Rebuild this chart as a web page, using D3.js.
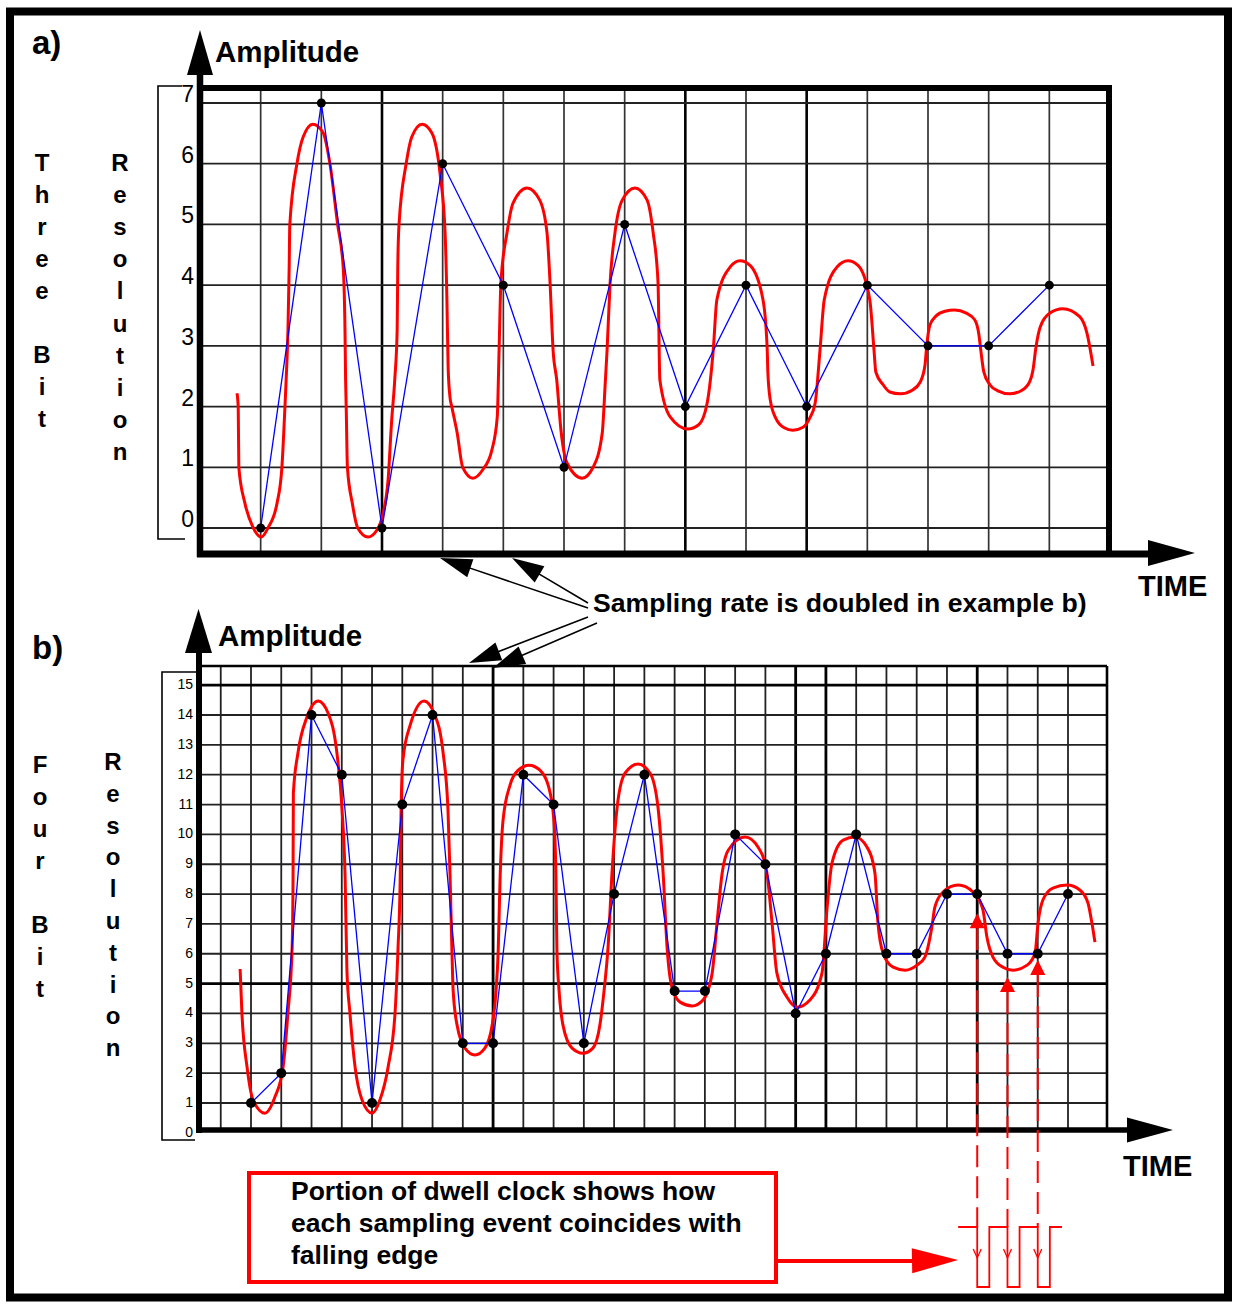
<!DOCTYPE html>
<html><head><meta charset="utf-8">
<script src="https://cdn.jsdelivr.net/npm/d3@7"></script>
<style>html,body{margin:0;padding:0;background:#fff;} svg{display:block;} text{font-family:"Liberation Sans",Arial,Helvetica,sans-serif;}</style>
</head><body>
<svg id="chart" width="1234" height="1306"></svg>
<script>
// ---------------- DATA ----------------
const ticksA = [0,1,2,3,4,5,6,7];
const sampleTimesA = [1,2,3,4,5,6,7,8,9,10,11,12,13,14];
const samplesA = [0,7,0,6,4,1,5,2,4,2,4,3,3,4];
// analog signal trace for panel a, [time (sample units), amplitude]
const analogA = [
 [0.61,2.22],[0.63,1.99],[0.64,1.00],[0.74,0.41],[0.87,0.02],[1.01,-0.15],[1.12,0.00],[1.27,0.41],[1.35,1.00],[1.40,1.99],[1.42,2.44],
 [1.45,3.26],[1.47,4.30],[1.48,4.99],[1.60,6.01],[1.70,6.44],[1.86,6.65],[2.03,6.51],[2.14,6.01],[2.27,4.99],[2.36,4.30],[2.39,3.26],[2.40,2.44],
 [2.41,1.99],[2.43,1.00],[2.51,0.41],[2.60,0.00],[2.77,-0.15],[2.92,-0.03],[3.02,0.25],[3.10,0.79],[3.16,1.78],[3.21,2.44],
 [3.25,3.26],[3.26,4.30],[3.28,4.99],[3.40,6.01],[3.49,6.44],[3.66,6.65],[3.82,6.51],[3.96,5.81],[4.04,4.86],[4.07,3.76],[4.09,2.65],[4.12,2.16],
 [4.15,2.00],[4.24,1.56],[4.33,1.00],[4.50,0.82],[4.66,0.96],[4.81,1.28],[4.90,1.83],[4.93,2.93],
 [4.96,4.04],[5.06,4.86],[5.16,5.35],[5.39,5.60],[5.60,5.40],[5.72,4.86],[5.77,4.04],[5.82,2.93],[5.88,2.44],
 [5.95,1.61],[6.05,1.07],[6.30,0.82],[6.48,1.00],[6.63,1.56],[6.68,2.39],[6.71,2.93],
 [6.76,4.04],[6.84,4.86],[6.96,5.40],[7.17,5.60],[7.37,5.40],[7.47,4.86],[7.55,4.04],[7.58,2.44],
 [7.75,1.83],[8.04,1.63],[8.22,1.70],[8.36,2.06],[8.46,2.93],
 [8.52,3.76],[8.74,4.30],[8.90,4.40],[9.07,4.32],[9.28,3.76],[9.35,2.93],[9.36,2.57],
 [9.40,2.11],[9.49,1.81],[9.63,1.65],[9.77,1.61],[9.94,1.66],[10.05,1.81],[10.14,2.06],[10.22,2.93],
 [10.29,3.76],[10.50,4.30],[10.68,4.40],[10.85,4.32],[11.04,3.76],[11.11,2.93],[11.14,2.57],
 [11.26,2.36],[11.37,2.24],[11.54,2.21],[11.74,2.27],[11.87,2.40],[11.95,2.68],[11.98,3.01],
 [12.03,3.34],[12.13,3.49],[12.28,3.57],[12.44,3.59],[12.63,3.54],[12.77,3.43],[12.84,3.18],[12.87,2.93],
 [12.92,2.57],[13.02,2.36],[13.15,2.26],[13.35,2.21],[13.55,2.27],[13.68,2.42],[13.73,2.60],[13.78,2.98],
 [13.85,3.31],[14.01,3.54],[14.22,3.61],[14.50,3.48],[14.62,3.21],[14.72,2.67]
];

const ticksB = [0,1,2,3,4,5,6,7,8,9,10,11,12,13,14,15];
const sampleTimesB = [1,2,3,4,5,6,7,8,9,10,11,12,13,14,15,16,17,18,19,20,21,22,23,24,25,26,27,28];
const samplesB = [1,2,14,12,1,11,14,3,3,12,11,3,8,12,4.75,4.75,10,9,4,6,10,6,6,8,8,6,6,8];
const analogB = [
 [0.64,5.49],[0.70,4.01],[0.87,2.20],[1.07,1.10],[1.46,0.66],[1.79,1.20],[2.06,2.20],[2.22,4.01],[2.36,6.22],
 [2.39,8.57],[2.40,11.38],[2.55,12.72],[2.85,13.93],[3.22,14.47],[3.55,14.06],[3.84,12.72],[4.01,10.81],[4.11,8.57],[4.17,5.45],
 [4.27,4.01],[4.44,2.20],[4.67,1.10],[5.00,0.66],[5.26,1.10],[5.53,2.20],[5.76,4.01],[5.86,6.22],
 [5.93,8.47],[5.96,10.81],[6.02,12.49],[6.26,13.66],[6.72,14.47],[7.05,14.06],[7.35,12.72],[7.51,10.81],[7.58,8.57],[7.64,6.12],
 [7.68,4.78],[7.81,3.61],[8.07,2.84],[8.40,2.61],[8.73,2.84],[8.97,3.61],[9.10,4.78],[9.17,6.12],
 [9.23,8.47],[9.33,10.48],[9.56,11.65],[9.83,12.15],[10.19,12.32],[10.55,12.15],[10.82,11.65],[11.01,10.48],[11.08,8.47],[11.11,6.12],
 [11.18,4.78],[11.31,3.61],[11.61,2.84],[11.97,2.67],[12.30,2.84],[12.53,3.61],[12.67,4.78],[12.80,6.22],
 [12.93,8.70],[13.10,10.91],[13.36,12.05],[13.79,12.36],[14.19,12.05],[14.45,10.91],[14.62,8.70],[14.75,6.22],
 [14.91,4.88],[15.18,4.38],[15.58,4.25],[15.94,4.45],[16.24,5.35],[16.40,7.03],
 [16.57,8.70],[16.77,9.47],[17.33,9.91],[17.76,9.57],[18.05,8.70],[18.22,7.03],[18.38,5.35],
 [18.71,4.55],[19.05,4.21],[19.47,4.45],[19.87,5.35],[20.04,7.56],
 [20.20,9.04],[20.57,9.81],[20.96,9.91],[21.36,9.57],[21.62,8.70],[21.72,7.03],[21.89,6.02],
 [22.22,5.55],[22.62,5.45],[23.01,5.62],[23.27,5.89],[23.50,6.89],
 [23.60,7.56],[23.87,8.07],[24.37,8.30],[24.86,8.07],[25.19,7.46],[25.32,6.56],[25.52,5.89],
 [25.85,5.55],[26.18,5.45],[26.65,5.62],[26.91,6.02],[27.01,7.03],
 [27.17,7.80],[27.50,8.20],[27.97,8.30],[28.40,8.13],[28.66,7.70],[28.79,7.03],[28.89,6.39]
];
// dwell clock: samples whose falling edge is shown, and where the red pointer arrows end
const clockSamples = [25,26,27];
const clockArrowTip = [7.36,5.22,5.79];

const labelA1 = "Three Bit";
const labelB1 = "Four Bit";
const labelRes = "Resolution";
const noteLines = ["Portion of dwell clock shows how","each sampling event coincides with","falling edge"];
const samplingNote = "Sampling rate is doubled in example b)";

// ---------------- DRAWING ----------------
const svg = d3.select('#chart');
const RED = '#ff0000', BLUE = '#0000ff';

function tri(g, tip, from, len, hw, fill){
  const dx = tip[0]-from[0], dy = tip[1]-from[1];
  const L = Math.hypot(dx,dy), ux = dx/L, uy = dy/L;
  const bx = tip[0]-ux*len, by = tip[1]-uy*len, px = -uy, py = ux;
  g.append('polygon')
   .attr('points', [[tip[0],tip[1]],[bx+px*hw,by+py*hw],[bx-px*hw,by-py*hw]].map(p=>p.join(',')).join(' '))
   .attr('fill', fill);
}
function line(g,x1,y1,x2,y2,w,col){
  return g.append('line').attr('x1',x1).attr('y1',y1).attr('x2',x2).attr('y2',y2)
    .attr('stroke',col||'#000').attr('stroke-width',w);
}
function vtext(g, str, x, y0, step, size){
  [...str].forEach((ch,i)=>{
    if(ch===' ') return;
    g.append('text').attr('x',x).attr('y',y0+i*step).attr('text-anchor','middle')
     .attr('font-size',size).attr('font-weight','bold').text(ch);
  });
}

// outer frame
svg.append('rect').attr('x',10).attr('y',11.5).attr('width',1218).attr('height',1286)
  .attr('fill','none').attr('stroke','#000').attr('stroke-width',8);

// ===== Panel a =====
const xa = d3.scaleLinear().domain([0,15]).range([200,1110]);
const ya = d3.scaleLinear().domain([0,7]).range([528,103]);
const gA = svg.append('g');
const topA = 88, botA = 554;
gA.selectAll('line.vga').data(sampleTimesA).join('line')
  .attr('x1',d=>xa(d)).attr('x2',d=>xa(d)).attr('y1',topA).attr('y2',botA)
  .attr('stroke',d=>[3,8,10].includes(d)?'#000':'#333')
  .attr('stroke-width',d=>[3,8,10].includes(d)?2.6:1.7);
gA.selectAll('line.hga').data(ticksA).join('line')
  .attr('x1',xa(0)).attr('x2',1109).attr('y1',d=>ya(d)).attr('y2',d=>ya(d))
  .attr('stroke','#222').attr('stroke-width',1.8);
gA.selectAll('text.tka').data(ticksA).join('text')
  .attr('x',194).attr('y',d=>ya(d)-1).attr('text-anchor','end').attr('font-size',23).text(d=>d);

const lineA = d3.line().x(d=>xa(d[0])).y(d=>ya(d[1])).curve(d3.curveMonotoneX);
gA.append('path').attr('d',lineA(analogA)).attr('fill','none').attr('stroke',RED).attr('stroke-width',3);
const ptsA = sampleTimesA.map((t,i)=>[t,samplesA[i]]);
gA.append('path').attr('d',d3.line().x(d=>xa(d[0])).y(d=>ya(d[1]))(ptsA))
  .attr('fill','none').attr('stroke',BLUE).attr('stroke-width',1.3);
gA.selectAll('circle').data(ptsA).join('circle')
  .attr('cx',d=>xa(d[0])).attr('cy',d=>ya(d[1])).attr('r',4.5).attr('fill','#000');

// frame / axes a
line(gA,197,topA,1112,topA,6);
line(gA,1109,topA,1109,botA,6);
line(gA,200,70,200,botA+3,6.5);
tri(gA,[200,30],[200,80],45,13,'#000');
line(gA,197,botA,1155,botA,7);
tri(gA,[1195,553],[1100,553],47,13,'#000');
gA.append('path').attr('d','M182,86H158V539H185').attr('fill','none').attr('stroke','#000').attr('stroke-width',1.6);

gA.append('text').attr('x',32).attr('y',54).attr('font-size',33).attr('font-weight','bold').text('a)');
gA.append('text').attr('x',215).attr('y',62).attr('font-size',29.5).attr('font-weight','bold').text('Amplitude');
gA.append('text').attr('x',1138).attr('y',596).attr('font-size',29).attr('font-weight','bold').text('TIME');
vtext(gA,labelA1,42,170.5,32,24);
vtext(gA,labelRes,120,171,32.1,24);

// ===== Panel b =====
const xb = d3.scaleLinear().domain([1,28]).range([251,1068]);
const yb = d3.scaleLinear().domain([1,14]).range([1103,715]);
const gB = svg.append('g');
const topB = 666, botB = 1130, rightB = 1107;
gB.selectAll('line.vgb').data([0].concat(sampleTimesB)).join('line')
  .attr('x1',d=>xb(d)).attr('x2',d=>xb(d)).attr('y1',topB).attr('y2',botB)
  .attr('stroke',d=>[9,19,20,25].includes(d)?'#000':'#222')
  .attr('stroke-width',d=>[9,19,20,25].includes(d)?2.8:1.8);
gB.selectAll('line.hgb').data(ticksB.slice(1)).join('line')
  .attr('x1',198).attr('x2',rightB).attr('y1',d=>yb(d)).attr('y2',d=>yb(d))
  .attr('stroke',d=>(d===5||d===15)?'#000':'#222')
  .attr('stroke-width',d=>(d===5||d===15)?2.8:1.8);
gB.selectAll('text.tkb').data(ticksB).join('text')
  .attr('x',193).attr('y',d=>yb(d)+4).attr('text-anchor','end').attr('font-size',14).text(d=>d);

const lineB = d3.line().x(d=>xb(d[0])).y(d=>yb(d[1])).curve(d3.curveMonotoneX);
gB.append('path').attr('d',lineB(analogB)).attr('fill','none').attr('stroke',RED).attr('stroke-width',3);
const ptsB = sampleTimesB.map((t,i)=>[t,samplesB[i]]);
gB.append('path').attr('d',d3.line().x(d=>xb(d[0])).y(d=>yb(d[1]))(ptsB))
  .attr('fill','none').attr('stroke',BLUE).attr('stroke-width',1.3);
gB.selectAll('circle').data(ptsB).join('circle')
  .attr('cx',d=>xb(d[0])).attr('cy',d=>yb(d[1])).attr('r',5).attr('fill','#000');

// frame / axes b
line(gB,198,topB,rightB,topB,2.6);
line(gB,rightB,topB,rightB,botB,2.6);
line(gB,199,650,199,botB+3,6);
tri(gB,[198.5,609],[198.5,660],44,13.5,'#000');
line(gB,196,botB,1135,botB,5.5);
tri(gB,[1173,1130],[1100,1130],46,12.5,'#000');
gB.append('path').attr('d','M197,672H162V1140H195').attr('fill','none').attr('stroke','#000').attr('stroke-width',1.6);

gB.append('text').attr('x',32).attr('y',659).attr('font-size',33).attr('font-weight','bold').text('b)');
gB.append('text').attr('x',218).attr('y',646).attr('font-size',29.5).attr('font-weight','bold').text('Amplitude');
gB.append('text').attr('x',1123).attr('y',1176).attr('font-size',29).attr('font-weight','bold').text('TIME');
vtext(gB,labelB1,40,773,32,24);
vtext(gB,labelRes,113,770,31.8,24);

// ===== sampling annotation =====
const gN = svg.append('g');
gN.append('text').attr('x',593).attr('y',612).attr('font-size',26.6).attr('font-weight','bold').text(samplingNote);
const arrows = [
  [[588,608],[440,558]],
  [[588,603],[512,558]],
  [[588,617],[469,663]],
  [[597,623],[493,668]]
];
arrows.forEach(([f,t])=>{
  const dx=t[0]-f[0], dy=t[1]-f[1], L=Math.hypot(dx,dy);
  line(gN,f[0],f[1],t[0]-dx/L*20,t[1]-dy/L*20,1.5);
  tri(gN,t,f,32,9.5,'#000');
});

// ===== dwell clock =====
const gC = svg.append('g');
const hiY = 1227, loY = 1287;
clockSamples.forEach((k,i)=>{
  const x = xb(k), tipY = yb(clockArrowTip[i]);
  tri(gC,[x,tipY],[x,tipY+20],15,7.5,RED);
  line(gC,x,tipY+15,x,hiY,2,RED).attr('stroke-dasharray','22,9');
  gC.append('path').attr('d',`M${x-4},${1249}L${x},${1258}L${x+4},${1249}`)
    .attr('fill','none').attr('stroke',RED).attr('stroke-width',1.3);
});
let cp = `M${xb(24.37)},${hiY}`;
clockSamples.forEach(k=>{ cp += `H${xb(k)}V${loY}H${xb(k+0.4)}V${hiY}`; });
cp += `H${xb(27.8)}`;
gC.append('path').attr('d',cp).attr('fill','none').attr('stroke',RED).attr('stroke-width',1.8);

// note box
gC.append('rect').attr('x',249).attr('y',1173).attr('width',527).attr('height',109)
  .attr('fill','none').attr('stroke',RED).attr('stroke-width',4);
noteLines.forEach((s,i)=>{
  gC.append('text').attr('x',291).attr('y',1200+i*32).attr('font-size',26.5).attr('font-weight','bold').text(s);
});
line(gC,777,1261,915,1261,4,RED);
tri(gC,[958,1260],[900,1261],46,12.5,RED);
</script>
</body></html>
